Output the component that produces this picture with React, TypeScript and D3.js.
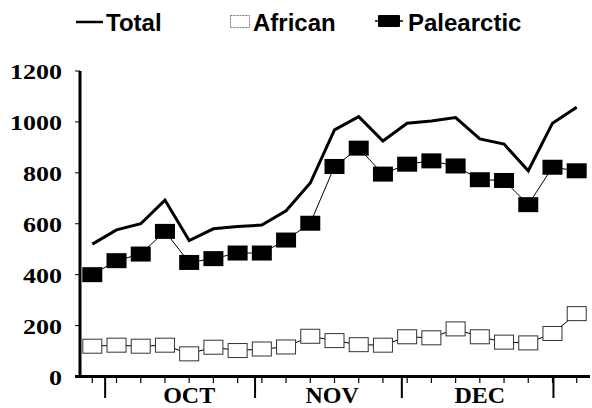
import React from "react";
import * as d3 from "d3";

const totalValues = [520, 576, 600, 693, 534, 580, 589, 595, 651, 760, 969, 1021, 925, 995, 1004, 1017, 933, 913, 808, 995, 1058];
const palearcticValues = [400, 455, 481, 570, 448, 463, 485, 485, 536, 602, 825, 897, 795, 834, 847, 827, 773, 770, 675, 822, 808];
const africanValues = [119, 123, 119, 123, 89, 115, 102, 108, 116, 158, 141, 125, 123, 156, 152, 187, 156, 135, 132, 169, 247];
const yTicks = [0, 200, 400, 600, 800, 1000, 1200];
const monthLabels = ["OCT", "NOV", "DEC"];
const monthLabelPos = [4, 9.9, 16];
const monthBoundaries = [0.53, 6.72, 12.78, 19.04];

const W = 592;
const H = 408;

export default function App() {
  const x = d3.scaleLinear().domain([0, 20]).range([92.3, 576.7]);
  const y = d3.scaleLinear().domain([0, 1200]).range([376.5, 71]);
  const idx = d3.range(totalValues.length);
  const line = (vals: number[]) =>
    d3.line<number>().x((_, i) => x(i)).y((v) => y(v))(vals) || "";

  const mw = 20;
  const mh = 15;
  const serif = "'Liberation Serif', 'Times New Roman', serif";
  const sans = "'Liberation Sans', Arial, sans-serif";

  return (
    <svg width={W} height={H} style={{ position: "absolute", left: 0, top: 0, background: "#fff" }}>
      <rect x={0} y={0} width={W} height={H} fill="#fff" />
      {/* Legend */}
      <line x1={76} x2={103} y1={22} y2={22} stroke="#000" strokeWidth={2.5} />
      <text x={106} y={30.5} fontFamily={sans} fontWeight="bold" fontSize={24} fill="#000">Total</text>
      <rect x={230.5} y={15.5} width={19} height={12} fill="#fff" stroke="#777" strokeWidth={1} strokeDasharray="2,1" />
      <text x={253} y={31} fontFamily={sans} fontWeight="bold" fontSize={24} fill="#000">African</text>
      <line x1={375} x2={403} y1={21} y2={21} stroke="#000" strokeWidth={1.5} />
      <rect x={378} y={15} width={22} height={12} fill="#000" rx={1} />
      <text x={408} y={31} fontFamily={sans} fontWeight="bold" fontSize={24} fill="#000">Palearctic</text>

      {/* Axes */}
      <line x1={80} x2={80} y1={71} y2={378} stroke="#000" strokeWidth={3} />
      <line x1={75} x2={590} y1={376.5} y2={376.5} stroke="#000" strokeWidth={3} />
      {yTicks.map((t) => (
        <g key={t}>
          <line x1={75} x2={80} y1={y(t)} y2={y(t)} stroke="#000" strokeWidth={1} />
          <text
            x={62}
            y={y(t) + 8}
            textAnchor="end"
            fontFamily={serif}
            fontWeight="bold"
            fontSize={20}
            textLength={String(t).length * 13}
            lengthAdjust="spacingAndGlyphs"
            fill="#000"
          >
            {t}
          </text>
        </g>
      ))}
      {idx.map((i) => (
        <line key={"mt" + i} x1={x(i)} x2={x(i)} y1={377} y2={383} stroke="#000" strokeWidth={1.2} />
      ))}
      {monthBoundaries.map((b, i) => (
        <line key={"mb" + i} x1={x(b)} x2={x(b)} y1={377} y2={398} stroke="#000" strokeWidth={2} />
      ))}
      {monthLabels.map((m, i) => (
        <text key={m} x={x(monthLabelPos[i])} y={402.5} textAnchor="middle" fontFamily={serif} fontWeight="bold" fontSize={24} fill="#000">
          {m}
        </text>
      ))}

      {/* Total */}
      <path d={line(totalValues)} fill="none" stroke="#000" strokeWidth={3} strokeLinejoin="miter" />

      {/* Palearctic */}
      <path d={line(palearcticValues)} fill="none" stroke="#000" strokeWidth={1} />
      {palearcticValues.map((v, i) => (
        <rect key={"p" + i} x={x(i) - mw / 2} y={y(v) - mh / 2} width={mw} height={mh} fill="#000" />
      ))}

      {/* African */}
      <path d={line(africanValues)} fill="none" stroke="#000" strokeWidth={1} />
      {africanValues.map((v, i) => (
        <rect key={"a" + i} x={x(i) - mw / 2 + 0.5} y={y(v) - mh / 2 + 0.5} width={mw - 1} height={mh - 1} fill="#fff" stroke="#333" strokeWidth={1} />
      ))}
    </svg>
  );
}
